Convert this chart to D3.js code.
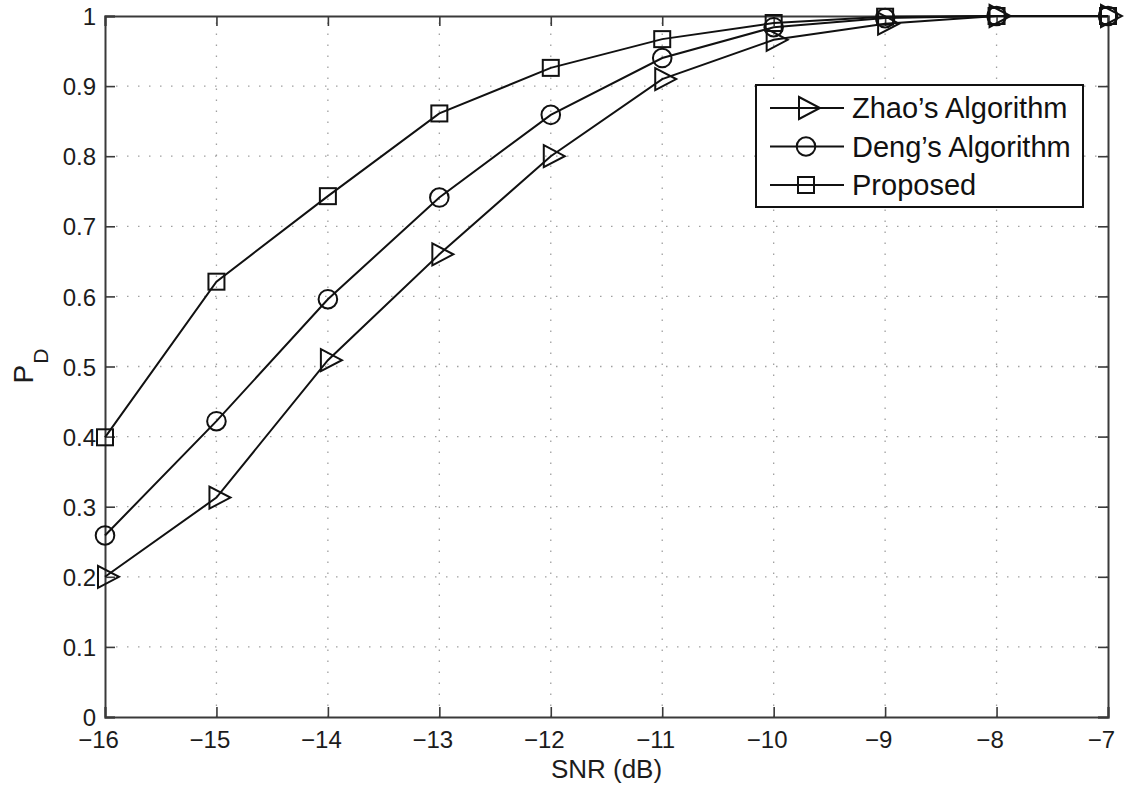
<!DOCTYPE html>
<meta charset="utf-8">
<html>
<script src="https://d3js.org/d3.v7.min.js"></script>
<style>
  body { margin: 0; background: #fff; }
  text { font-family: "Liberation Sans", Arial, sans-serif; }
</style>
<div id="chart"></div>
<script>

// data
var snr = [-16, -15, -14, -13, -12, -11, -10, -9, -8, -7];
var zhao = [0.200, 0.313, 0.509, 0.660, 0.800, 0.910, 0.966, 0.989, 1.0, 1.0];
var deng = [0.259, 0.422, 0.596, 0.741, 0.859, 0.940, 0.984, 0.997, 1.0, 1.0];
var proposed = [0.399, 0.621, 0.743, 0.861, 0.926, 0.967, 0.990, 0.999, 1.0, 1.0];
var seriesNames = ["Zhao\u2019s Algorithm", "Deng\u2019s Algorithm", "Proposed"];
var xTicks = [-16, -15, -14, -13, -12, -11, -10, -9, -8, -7];
var yTicks = [0, 0.1, 0.2, 0.3, 0.4, 0.5, 0.6, 0.7, 0.8, 0.9, 1];

var width = 1124,
    height = 789,
    margin = {top: 16, right: 16, bottom: 72, left: 105};

var svg = d3.select("#chart")
  .append("svg")
    .attr("width", width)
    .attr("height", height);

var x = d3.scaleLinear().domain([-16, -7]).range([margin.left, width - margin.right]);
var y = d3.scaleLinear().domain([0, 1]).range([height - margin.bottom, margin.top]);

var axisColor = "#3a3a3a";
var textColor = "#1c1c1c";

// dotted grid
svg.append("g").selectAll("line.gx")
  .data(xTicks.slice(1, -1))
  .enter().append("line")
    .attr("x1", function(d) { return x(d); })
    .attr("x2", function(d) { return x(d); })
    .attr("y1", y(0)).attr("y2", y(1))
    .attr("stroke", "#a0a0a0")
    .attr("stroke-width", 1.3)
    .attr("stroke-dasharray", "1.5,9.5");
svg.append("g").selectAll("line.gy")
  .data(yTicks.slice(1, -1))
  .enter().append("line")
    .attr("y1", function(d) { return y(d); })
    .attr("y2", function(d) { return y(d); })
    .attr("x1", x(-16)).attr("x2", x(-7))
    .attr("stroke", "#a0a0a0")
    .attr("stroke-width", 1.3)
    .attr("stroke-dasharray", "1.5,9.5");

// axes (ticks inside, MATLAB style) on all four sides
var fmtX = function(d) { return d < 0 ? "\u2212" + Math.abs(d) : d; };
var axB = svg.append("g")
  .attr("transform", "translate(0," + y(0) + ")")
  .call(d3.axisBottom(x).tickValues(xTicks).tickSize(-10).tickPadding(14).tickFormat(fmtX));
var axL = svg.append("g")
  .attr("transform", "translate(" + x(-16) + ",0)")
  .call(d3.axisLeft(y).tickValues(yTicks).tickSize(-10).tickPadding(9).tickFormat(d3.format("")));
var axT = svg.append("g")
  .attr("transform", "translate(0," + y(1) + ")")
  .call(d3.axisTop(x).tickValues(xTicks).tickSize(-10).tickFormat(""));
var axR = svg.append("g")
  .attr("transform", "translate(" + x(-7) + ",0)")
  .call(d3.axisRight(y).tickValues(yTicks).tickSize(-10).tickFormat(""));

[axB, axL, axT, axR].forEach(function(g) {
  g.select(".domain").attr("stroke", axisColor).attr("stroke-width", 2);
  g.selectAll(".tick line").attr("stroke", axisColor).attr("stroke-width", 1.6);
  g.selectAll(".tick text").attr("fill", textColor).style("font-size", "24px");
});
axB.selectAll(".tick text").attr("dx", -7);
axL.selectAll(".tick text").attr("dy", "0.36em");

// axis titles
svg.append("text")
  .attr("x", (x(-16) + x(-7)) / 2)
  .attr("y", 778)
  .attr("text-anchor", "middle")
  .style("font-size", "26px")
  .attr("fill", textColor)
  .text("SNR (dB)");

var ylab = svg.append("text")
  .attr("transform", "translate(33," + 366 + ") rotate(-90)")
  .attr("text-anchor", "middle")
  .style("font-size", "28px")
  .attr("fill", textColor);
ylab.append("tspan").text("P");
ylab.append("tspan").attr("dy", "15").attr("dx", "1").style("font-size", "21px").text("D");

// lines and markers
var allSeries = [zhao, deng, proposed];
var markers = ["tri", "circle", "square"];

var line = d3.line()
  .x(function(d, i) { return x(snr[i]); })
  .y(function(d) { return y(d); });

function drawMarker(g, type, cx, cy) {
  if (type === "tri") {
    g.append("path")
      .attr("d", "M" + (cx - 7) + "," + (cy - 11) + "L" + (cx + 14) + "," + cy + "L" + (cx - 7) + "," + (cy + 11) + "Z")
      .attr("fill", "none").attr("stroke", "#111").attr("stroke-width", 2);
  } else if (type === "circle") {
    g.append("circle")
      .attr("cx", cx).attr("cy", cy).attr("r", 9.3)
      .attr("fill", "none").attr("stroke", "#111").attr("stroke-width", 2);
  } else {
    g.append("rect")
      .attr("x", cx - 8).attr("y", cy - 8).attr("width", 16).attr("height", 16)
      .attr("fill", "none").attr("stroke", "#111").attr("stroke-width", 2);
  }
}

allSeries.forEach(function(s, k) {
  svg.append("path")
    .datum(s)
    .attr("d", line)
    .attr("fill", "none")
    .attr("stroke", "#111")
    .attr("stroke-width", 2);
  var g = svg.append("g");
  s.forEach(function(v, i) { drawMarker(g, markers[k], x(snr[i]), y(v)); });
});

// legend
var lg = svg.append("g");
lg.append("rect")
  .attr("x", 756).attr("y", 85).attr("width", 327).attr("height", 122)
  .attr("fill", "#fff").attr("stroke", "#111").attr("stroke-width", 2);
seriesNames.forEach(function(name, k) {
  var cy = 108 + k * 38.5;
  lg.append("line")
    .attr("x1", 770).attr("x2", 844).attr("y1", cy).attr("y2", cy)
    .attr("stroke", "#111").attr("stroke-width", 2);
  drawMarker(lg, markers[k], 806, cy);
  lg.append("text")
    .attr("x", 852).attr("y", cy)
    .attr("dy", "0.36em")
    .style("font-size", "29px")
    .attr("fill", "#111")
    .text(name);
});

</script>
</html>
